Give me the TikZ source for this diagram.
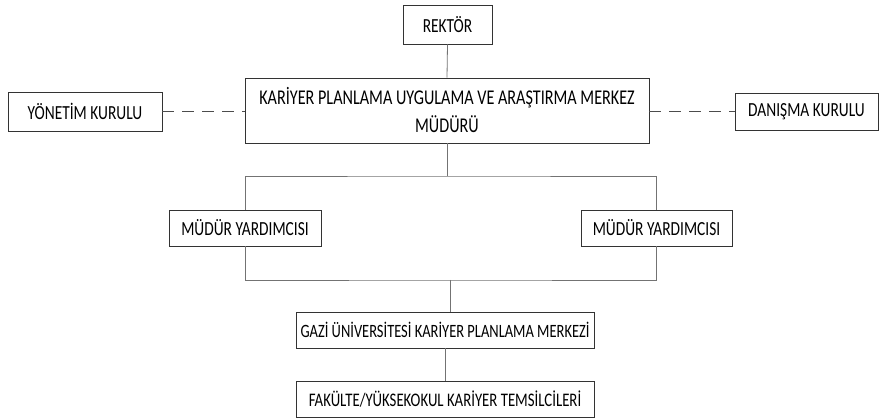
\documentclass[tikz,border=0pt]{standalone}
\usepackage{fontspec}
\setmainfont[FakeStretch=0.77]{Carlito}
\usepackage{tikz}
\usetikzlibrary{calc}

\begin{document}
\begin{tikzpicture}[x=1pt, y=-1pt,
    unitbox/.style={draw=black!80, line width=0.8pt, inner sep=0pt, align=center,
        font=\fontsize{20}{24}\selectfont},
    link/.style={draw=black!55, line width=0.8pt},
    advice/.style={draw=black!70, line width=0.8pt, dash pattern=on 12pt off 8pt}]
    %% Background
    \useasboundingbox (0,0) rectangle (881,419);

    %% Top level
    \node[unitbox, minimum width=89pt, minimum height=39pt] (rektor) at (447.5,24.5) {REKTÖR};
    \node[unitbox, minimum width=404pt, minimum height=65pt, font=\fontsize{21}{28}\selectfont]
        (merkez) at (447,110.5)
        {KARİYER PLANLAMA UYGULAMA VE ARAŞTIRMA MERKEZ\\MÜDÜRÜ};
    \node[unitbox, minimum width=154pt, minimum height=39pt] (yonetim) at (85,111.5) {YÖNETİM KURULU};
    \node[unitbox, minimum width=143pt, minimum height=37pt] (danisma) at (806.5,111.5) {DANIŞMA KURULU};

    %% Assistants
    \node[unitbox, minimum width=152pt, minimum height=36pt] (yardleft) at (245,228) {MÜDÜR YARDIMCISI};
    \node[unitbox, minimum width=151pt, minimum height=36pt] (yardright) at (656.5,228) {MÜDÜR YARDIMCISI};

    %% Lower level
    \node[unitbox, minimum width=298pt, minimum height=36pt, font=\fontsize{18.8}{22}\selectfont]
        (gazi) at (445,330) {GAZİ ÜNİVERSİTESİ KARİYER PLANLAMA MERKEZİ};
    \node[unitbox, minimum width=298pt, minimum height=36pt, font=\fontsize{19.2}{22}\selectfont]
        (temsil) at (445,399) {FAKÜLTE/YÜKSEKOKUL KARİYER TEMSİLCİLERİ};

    \coordinate (splittop) at (447,176);
    \coordinate (splitbot) at (450,280);

    %% Connectors
    \draw[link] (rektor.south) -- (merkez.north);
    \draw[link] (merkez.south) -- (splittop);
    \draw[link] (yardleft.north) |- (splittop) -| (yardright.north);
    \draw[link] (yardleft.south) |- (splitbot) -| (yardright.south);
    \draw[link] (splitbot) -- (splitbot |- gazi.north);
    \draw[link] (gazi.south) -- (temsil.north);

    \draw[advice] (yonetim.east) -- (merkez.west |- yonetim.east);
    \draw[advice] (merkez.east |- danisma.west) -- (danisma.west);

\end{tikzpicture}
\end{document}
